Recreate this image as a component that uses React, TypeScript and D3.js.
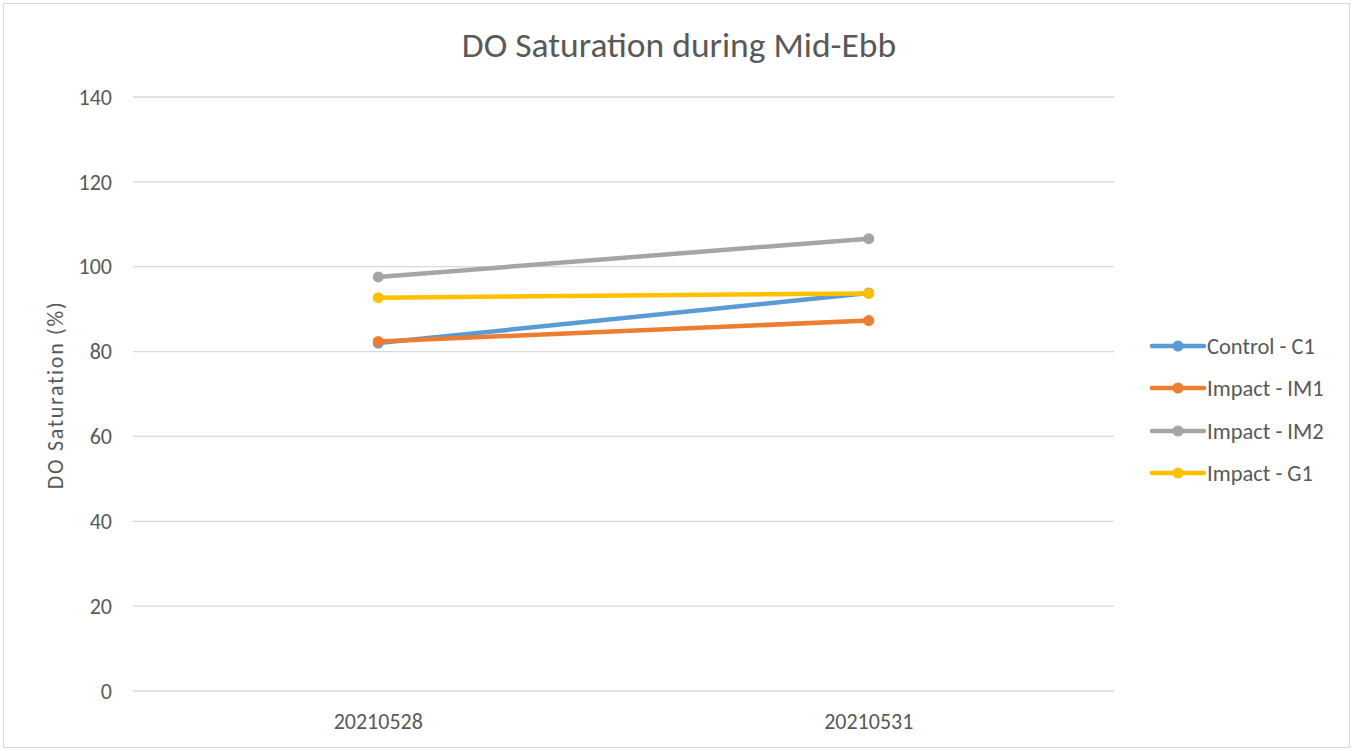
import React from "react";
import * as d3 from "d3";

const categories = ["20210528", "20210531"];
const seriesNames = ["Control - C1", "Impact - IM1", "Impact - IM2", "Impact - G1"];
const seriesColors = ["#5B9BD5", "#ED7D31", "#A5A5A5", "#FFC000"];
const controlC1 = [82.0, 93.8];
const impactIM1 = [82.4, 87.3];
const impactIM2 = [97.6, 106.6];
const impactG1 = [92.7, 93.7];
const yTicks = [0, 20, 40, 60, 80, 100, 120, 140];

const W = 1355, H = 751;
const plot = { left: 133, right: 1114, top: 97, bottom: 691 };
const font = "Carlito, 'Liberation Sans Narrow', 'Liberation Sans', Arial, sans-serif";

export default function App() {
  const data = [controlC1, impactIM1, impactIM2, impactG1];
  const x = d3.scaleBand<string>().domain(categories).range([plot.left, plot.right]);
  const y = d3.scaleLinear().domain([0, 140]).range([plot.bottom, plot.top]);
  const line = d3
    .line<number>()
    .x((_, i) => (x(categories[i]) as number) + x.bandwidth() / 2)
    .y((d) => y(d));
  const legendY = [346, 388, 431, 473];
  return (
    <svg width={W} height={H} style={{ position: "absolute", left: 0, top: 0 }}>
      <rect x={0} y={0} width={W} height={H} fill="#fff" />
      <rect x={3.5} y={3.5} width={1346} height={744} fill="none" stroke="#d9d9d9" strokeWidth={1} />
      <text x={679} y={57} textAnchor="middle" fontFamily={font} fontSize={35.5} fill="#595959">
        DO Saturation during Mid-Ebb
      </text>
      {yTicks.map((t) => (
        <g key={t}>
          <line x1={plot.left} x2={plot.right} y1={y(t)} y2={y(t)} stroke="#d9d9d9" strokeWidth={1.3} />
          <text x={112} y={y(t)} dy="0.35em" textAnchor="end" fontFamily={font} fontSize={22} fill="#595959">
            {t}
          </text>
        </g>
      ))}
      {categories.map((c) => (
        <text key={c} x={(x(c) as number) + x.bandwidth() / 2} y={729} textAnchor="middle" fontFamily={font} fontSize={22} fill="#595959">
          {c}
        </text>
      ))}
      <text transform={`translate(63,395) rotate(-90)`} textAnchor="middle" fontFamily={font} fontSize={22} letterSpacing={1.7} fill="#595959">
        DO Saturation (%)
      </text>
      {data.map((s, si) => (
        <g key={si}>
          <path d={line(s) || ""} fill="none" stroke={seriesColors[si]} strokeWidth={4.5} strokeLinecap="round" />
          {s.map((v, i) => (
            <circle key={i} cx={(x(categories[i]) as number) + x.bandwidth() / 2} cy={y(v)} r={5.5} fill={seriesColors[si]} />
          ))}
        </g>
      ))}
      {seriesNames.map((n, i) => (
        <g key={n}>
          <line x1={1152} x2={1204} y1={legendY[i]} y2={legendY[i]} stroke={seriesColors[i]} strokeWidth={4.5} strokeLinecap="round" />
          <circle cx={1178} cy={legendY[i]} r={5.5} fill={seriesColors[i]} />
          <text x={1207} y={legendY[i]} dy="0.35em" fontFamily={font} fontSize={22.5} fill="#595959">
            {n}
          </text>
        </g>
      ))}
    </svg>
  );
}
